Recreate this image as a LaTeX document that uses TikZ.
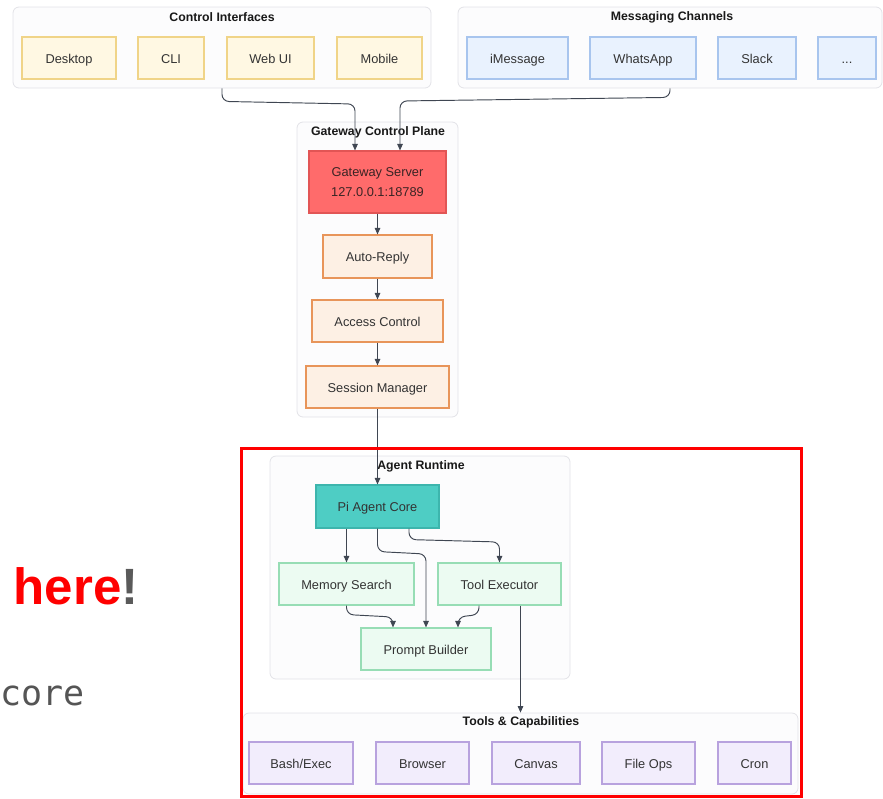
\documentclass[tikz,border=0pt]{standalone}
\usepackage{fontspec}
\setmainfont{Liberation Sans}
\newfontfamily\codefont{DejaVu Sans Mono}
\usetikzlibrary{arrows.meta}

% palette
\definecolor{txt}{HTML}{333333}
\definecolor{edgecol}{HTML}{3F4652}
\definecolor{clfill}{HTML}{FCFCFD}
\definecolor{cldraw}{HTML}{E2E2E7}
\definecolor{yfill}{HTML}{FFF8E3}
\definecolor{ydraw}{HTML}{F0D488}
\definecolor{bfill}{HTML}{E9F2FE}
\definecolor{bdraw}{HTML}{A8C5EE}
\definecolor{rfill}{HTML}{FF6B6B}
\definecolor{rdraw}{HTML}{E25555}
\definecolor{rtext}{HTML}{3A2424}
\definecolor{ofill}{HTML}{FDF0E4}
\definecolor{odraw}{HTML}{E8955A}
\definecolor{tfill}{HTML}{4ECDC4}
\definecolor{tdraw}{HTML}{3DB5AD}
\definecolor{gfill}{HTML}{ECFBF2}
\definecolor{gdraw}{HTML}{97DDB5}
\definecolor{pfill}{HTML}{F2EDFC}
\definecolor{pdraw}{HTML}{B8A2DE}
\definecolor{bang}{HTML}{5A5A5A}
\definecolor{codegray}{HTML}{555555}

\begin{document}
\begin{tikzpicture}[x=1pt,y=-1pt,
  cluster/.style={draw=cldraw, fill=clfill, rounded corners=6pt, line width=0.8pt, inner sep=0pt},
  ctitle/.style={font=\bfseries\fontsize{12.3}{14}\selectfont, text=black!90, inner sep=0pt},
  basebox/.style={draw, line width=1.1pt, inner sep=0pt, align=center, text=txt,
    font=\fontsize{12.8}{16}\selectfont, minimum height=42pt},
  box/.style={basebox, text height=10.4pt, text depth=0pt},
  ybox/.style={box, fill=yfill, draw=ydraw},
  bbox/.style={box, fill=bfill, draw=bdraw},
  obox/.style={box, fill=ofill, draw=odraw},
  gbox/.style={box, fill=gfill, draw=gdraw},
  pbox/.style={box, fill=pfill, draw=pdraw},
  arr/.style={draw=edgecol, line width=0.95pt, rounded corners=7pt,
    -{Triangle[length=6.5pt,width=5.5pt]}}
]
\useasboundingbox (0,0) rectangle (883,798);

% ---- top clusters ----
\node[cluster, minimum width=418pt, minimum height=81pt] (ci) at (222,47.5) {};
\node[ctitle] (cit) at (222,17) {Control Interfaces};
\node[ybox, minimum width=94pt] (desk) at (69,58) {Desktop};
\node[ybox, minimum width=66pt] (cli) at (171,58) {CLI};
\node[ybox, minimum width=87pt] (web) at (270.5,58) {Web UI};
\node[ybox, minimum width=85pt] (mob) at (379.5,58) {Mobile};

\node[cluster, minimum width=424pt, minimum height=81pt] (mc) at (670,47.5) {};
\node[ctitle] (mct) at (672,17) {Messaging Channels};
\node[bbox, minimum width=101pt] (imsg) at (517.5,58) {iMessage};
\node[bbox, minimum width=106pt] (wapp) at (643,58) {WhatsApp};
\node[bbox, minimum width=78pt] (slack) at (757,58) {Slack};
\node[bbox, minimum width=58pt] (more) at (847,58) {...};

% ---- gateway ----
\node[cluster, minimum width=161pt, minimum height=295pt] (gcp) at (377.5,269.5) {};
\node[ctitle] (gcpt) at (378,132) {Gateway Control Plane};
\node[basebox, fill=rfill, draw=rdraw, minimum width=137pt, minimum height=62pt,
  text=rtext, text depth=0pt] (gs) at (377.5,182) {Gateway Server\\[4pt]127.0.0.1:18789};
\node[obox, minimum width=109pt, minimum height=43pt] (arep) at (377.5,256.5) {Auto-Reply};
\node[obox, minimum width=131pt] (acc) at (377.5,321) {Access Control};
\node[obox, minimum width=143pt] (sess) at (377.5,387) {Session Manager};

% ---- agent runtime ----
\node[cluster, minimum width=300pt, minimum height=223pt] (art) at (420,567.5) {};
\node[ctitle] (artt) at (421,466) {Agent Runtime};
\node[box, fill=tfill, draw=tdraw, minimum width=123pt, minimum height=43pt] (pi) at (377.5,506.5) {Pi Agent Core};
\node[gbox, minimum width=135pt] (mem) at (346.5,584) {Memory Search};
\node[gbox, minimum width=123pt] (tex) at (499.5,584) {Tool Executor};
\node[gbox, minimum width=130pt] (pb) at (426,649) {Prompt Builder};

% ---- tools ----
\node[cluster, minimum width=555pt, minimum height=81pt] (tc) at (520.5,753.5) {};
\node[ctitle] (tct) at (521,722) {Tools \& Capabilities};
\node[pbox, minimum width=104pt] (bash) at (301,763) {Bash/Exec};
\node[pbox, minimum width=93pt] (brow) at (422.5,763) {Browser};
\node[pbox, minimum width=88pt] (canv) at (536,763) {Canvas};
\node[pbox, minimum width=93pt] (fops) at (648.5,763) {File Ops};
\node[pbox, minimum width=73pt] (cron) at (754.5,763) {Cron};

% ---- connectors ----
\draw[arr] (ci.south) -- ++(0,13) -- (355,104) -- ([xshift=-22.5pt]gs.north);
\draw[arr] (mc.south) -- ++(0,9) -- (400,101) -- ([xshift=22.5pt]gs.north);
\draw[arr] (gs) -- (arep);
\draw[arr] (arep) -- (acc);
\draw[arr] (acc) -- (sess);
\draw[arr] (sess) -- (pi);
\draw[arr] ([xshift=-31pt]pi.south) -- (mem.north);
\draw[arr] (pi.south) -- ++(0,23) -- (426,554) -- (pb.north);
\draw[arr] ([xshift=31.5pt]pi.south) -- ++(0,11) -- (499.5,542) -- (tex.north);
\draw[arr] (mem.south) -- ++(0,9) -- (393,617) -- ([xshift=-33pt]pb.north);
\draw[arr] ([xshift=-20.5pt]tex.south) -- ++(0,9) -- (458,617) -- ([xshift=32pt]pb.north);
\draw[arr] (tex.south -| tc.north) -- (tc.north);

% ---- highlight frame ----
\node[draw=red, line width=3pt, minimum width=559.5pt, minimum height=348pt, inner sep=0pt]
  (frame) at (521.25,622.5) {};

% ---- side captions ----
\node[anchor=base west, inner sep=0pt, font=\bfseries\fontsize{51}{60}\selectfont]
  (here) at (13.5,604) {\textcolor{red}{here}\textcolor{bang}{!}};
\node[anchor=base west, inner sep=0pt, font=\codefont\fontsize{35}{42}\selectfont, text=codegray]
  (core) at (0,705) {core};
\end{tikzpicture}
\end{document}
